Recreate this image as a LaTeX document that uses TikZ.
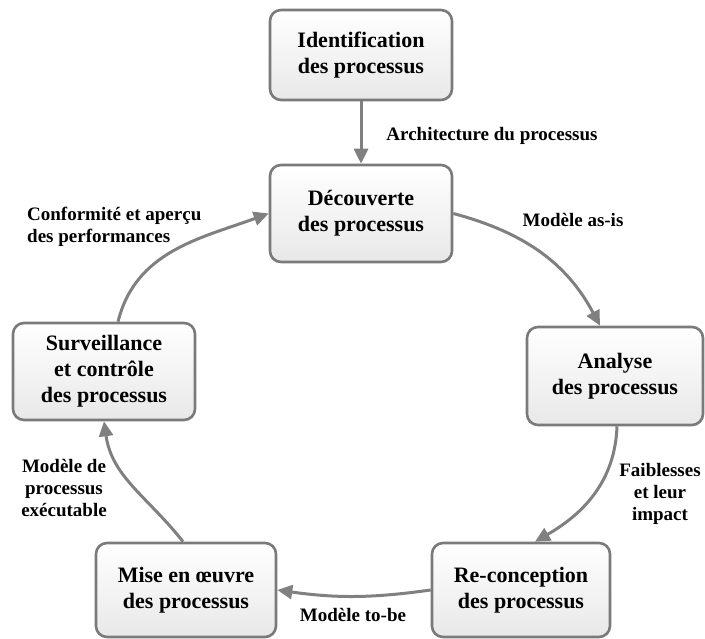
\documentclass[tikz,border=0pt]{standalone}
\usepackage{fontspec}
\setmainfont{Liberation Serif}
\usetikzlibrary{arrows.meta}
\definecolor{edgegray}{HTML}{808080}
\definecolor{boxline}{HTML}{7A7A7A}
\tikzset{
  stage/.style={draw=boxline, line width=2.6pt, rounded corners=11pt,
    top color=white, bottom color=black!9, align=center, inner sep=0pt,
    font=\fontsize{22}{26}\selectfont\bfseries},
  flow/.style={draw=edgegray, line width=3pt,
    -{Triangle[length=15pt,width=14pt]}},
  lbl/.style={font=\fontsize{19}{22}\selectfont\bfseries, align=center, inner sep=0pt}
}
\begin{document}
\begin{tikzpicture}[x=1pt,y=1pt]
  \useasboundingbox (0,0) rectangle (705,639);

  % process stages
  \node[stage, minimum width=182pt, minimum height=90pt] (ident)  at (361,584)   {Identification\\des processus};
  \node[stage, minimum width=182pt, minimum height=97pt] (decouv) at (361,425.5) {Découverte\\des processus};
  \node[stage, minimum width=176pt, minimum height=98pt] (analyse) at (615,263)  {Analyse\\des processus};
  \node[stage, minimum width=178pt, minimum height=94pt] (recon)  at (521,49)    {Re-conception\\des processus};
  \node[stage, minimum width=180pt, minimum height=94pt] (mise)   at (186,49)    {Mise en œuvre\\des processus};
  \node[stage, minimum width=182pt, minimum height=97pt] (surv)   at (104,267.5) {Surveillance\\et contrôle\\des processus};

  % connectors
  \draw[flow] (ident.south) -- (decouv.north);
  \draw[flow] (decouv.east) to[out=-15,in=118] ([xshift=-15pt]analyse.north);
  \draw[flow] ([xshift=2pt]analyse.south) to[out=-92,in=30] ([xshift=14pt]recon.north);
  \draw[flow] (recon.west) to[out=188,in=-8] (mise.east);
  \draw[flow] ([xshift=-3pt]mise.north) to[out=128,in=-82] (surv.south);
  \draw[flow] ([xshift=14pt]surv.north) to[out=76,in=200] (decouv.west);

  % connector labels
  \node[lbl] (larch) at (492,503) {Architecture du processus};
  \node[lbl] (lasis) at (573,419) {Modèle as-is};
  \node[lbl, anchor=west, align=left] (lconf) at (27,412.5) {Conformité et aperçu\\des performances};
  \node[lbl] (lfaib) at (660,145) {Faiblesses\\et leur\\impact};
  \node[lbl] (ltobe) at (353,24) {Modèle to-be};
  \node[lbl] (lexec) at (64,151) {Modèle de\\processus\\exécutable};
\end{tikzpicture}
\end{document}
